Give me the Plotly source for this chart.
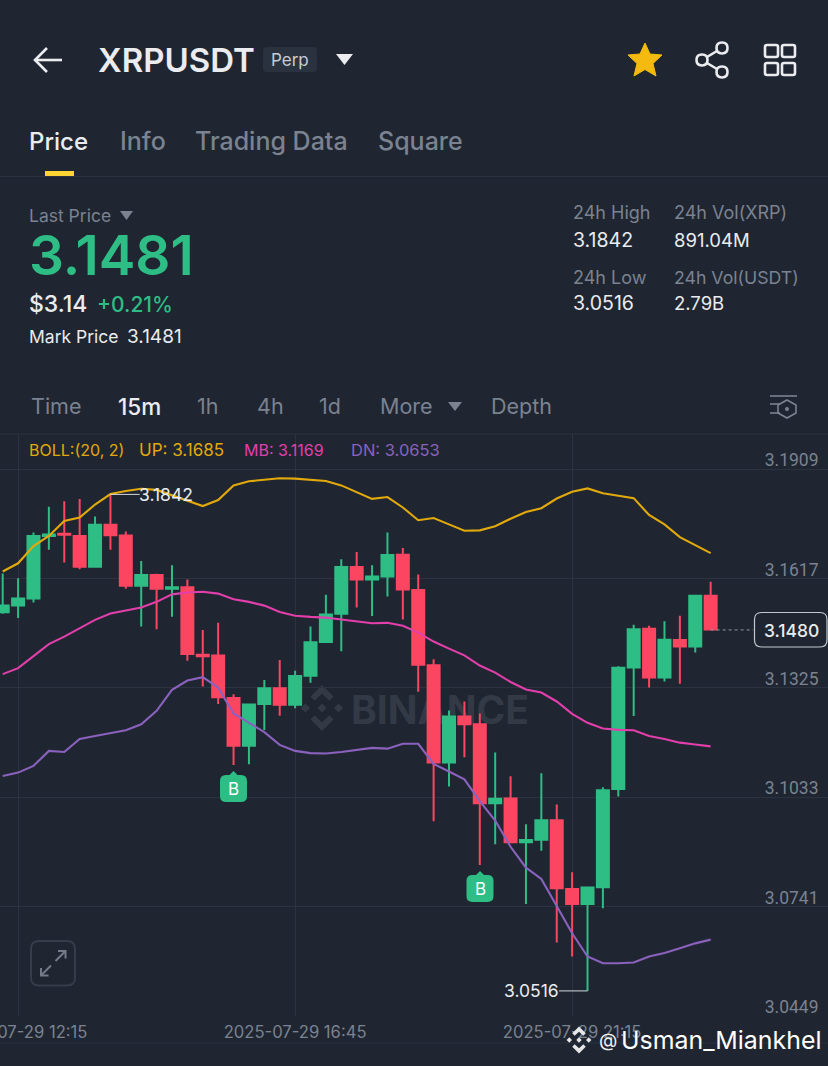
"""XRPUSDT 15m perp screen: candles with Bollinger bands plus the app chrome around them."""

import plotly.graph_objects as go

WIDTH = 828
HEIGHT = 1066
BG = "#1F2631"
GRID = "#2C3340"
GREEN = "#2EBD85"
RED = "#FC4661"
GRAY = "#7B8290"
SOFT = "#EAECEF"
YELLOW = "#E2A90C"
PINK = "#E23FAB"
PURPLE = "#8A62BE"
FONT = "Inter"

OPENS = [3.1527, 3.1545, 3.1564, 3.1731, 3.1737, 3.1731, 3.1649, 3.1761, 3.1732, 3.1598, 3.1627, 3.1590,
         3.1594, 3.1414, 3.1412, 3.1298, 3.1171, 3.1282, 3.1324, 3.1280, 3.1358, 3.1448, 3.1523, 3.1648,
         3.1615, 3.1623, 3.1681, 3.1587, 3.1386, 3.1126, 3.1249, 3.1228, 3.1017, 3.1030, 3.0913, 3.0920,
         3.0972, 3.0788, 3.0748, 3.0793, 3.1055, 3.1380, 3.1483, 3.1353, 3.1453, 3.1436, 3.1571]
HIGHS = [3.1631, 3.1618, 3.1740, 3.1809, 3.1824, 3.1830, 3.1783, 3.1842, 3.1743, 3.1664, 3.1630, 3.1653,
         3.1615, 3.1480, 3.1499, 3.1308, 3.1281, 3.1346, 3.1400, 3.1371, 3.1489, 3.1574, 3.1669, 3.1688,
         3.1653, 3.1740, 3.1699, 3.1628, 3.1402, 3.1265, 3.1289, 3.1257, 3.1153, 3.1089, 3.0961, 3.1097,
         3.1014, 3.0833, 3.0792, 3.1060, 3.1383, 3.1494, 3.1491, 3.1503, 3.1518, 3.1571, 3.1609]
LOWS = [3.1523, 3.1512, 3.1553, 3.1694, 3.1660, 3.1642, 3.1649, 3.1694, 3.1590, 3.1489, 3.1482, 3.1515,
        3.1398, 3.1329, 3.1282, 3.1119, 3.1121, 3.1213, 3.1251, 3.1271, 3.1339, 3.1448, 3.1423, 3.1540,
        3.1517, 3.1569, 3.1508, 3.1315, 3.0969, 3.1062, 3.1140, 3.0852, 3.0908, 3.0913, 3.0748, 3.0890,
        3.0645, 3.0608, 3.0516, 3.0737, 3.1035, 3.1250, 3.1326, 3.1342, 3.1336, 3.1420, 3.1481]
CLOSES = [3.1545, 3.1564, 3.1731, 3.1735, 3.1734, 3.1649, 3.1761, 3.1733, 3.1598, 3.1627, 3.1590, 3.1594,
          3.1416, 3.1410, 3.1300, 3.1171, 3.1281, 3.1324, 3.1280, 3.1357, 3.1447, 3.1521, 3.1648, 3.1615,
          3.1623, 3.1680, 3.1588, 3.1387, 3.1126, 3.1249, 3.1228, 3.1017, 3.1029, 3.0913, 3.0919, 3.0972,
          3.0790, 3.0748, 3.0792, 3.1052, 3.1379, 3.1482, 3.1353, 3.1454, 3.1436, 3.1571, 3.1481]
BOLL_UP = [3.1636, 3.1658, 3.1704, 3.1731, 3.1771, 3.1780, 3.1815, 3.1843, 3.1851, 3.1857, 3.1854, 3.1840,
           3.1824, 3.1811, 3.1827, 3.1866, 3.1877, 3.1882, 3.1885, 3.1884, 3.1880, 3.1878, 3.1866, 3.1848,
           3.1830, 3.1835, 3.1807, 3.1773, 3.1779, 3.1762, 3.1745, 3.1746, 3.1757, 3.1777, 3.1795, 3.1805,
           3.1831, 3.1849, 3.1858, 3.1845, 3.1838, 3.1832, 3.1787, 3.1762, 3.1728, 3.1706, 3.1685]
BOLL_MB = [3.1362, 3.1378, 3.1410, 3.1442, 3.1462, 3.1484, 3.1507, 3.1524, 3.1531, 3.1540, 3.1555, 3.1575,
           3.1580, 3.1582, 3.1577, 3.1562, 3.1555, 3.1545, 3.1528, 3.1518, 3.1515, 3.1513, 3.1508, 3.1503,
           3.1498, 3.1499, 3.1491, 3.1473, 3.1449, 3.1430, 3.1412, 3.1385, 3.1366, 3.1341, 3.1321, 3.1313,
           3.1289, 3.1256, 3.1232, 3.1217, 3.1213, 3.1212, 3.1197, 3.1189, 3.1179, 3.1174, 3.1169]
BOLL_DN = [3.1090, 3.1099, 3.1117, 3.1157, 3.1154, 3.1189, 3.1197, 3.1204, 3.1212, 3.1228, 3.1264, 3.1320,
           3.1345, 3.1354, 3.1326, 3.1257, 3.1231, 3.1207, 3.1173, 3.1157, 3.1151, 3.1150, 3.1154, 3.1159,
           3.1165, 3.1163, 3.1176, 3.1176, 3.1122, 3.1102, 3.1081, 3.1023, 3.0971, 3.0901, 3.0845, 3.0815,
           3.0741, 3.0670, 3.0608, 3.0590, 3.0590, 3.0592, 3.0608, 3.0617, 3.0630, 3.0643, 3.0653]
CANDLE_INDEX = list(range(len(OPENS)))

PRICE_TICKS = [3.1909, 3.1617, 3.1325, 3.1033, 3.0741, 3.0449]
TIME_TICKS = [1, 19, 37]
TIME_LABELS = ["2025-07-29 12:15", "2025-07-29 16:45", "2025-07-29 21:15"]
HIGH_MARK = (7, 3.1842)
LOW_MARK = (38, 3.0516)
LAST_PRICE = 3.1480


def px(x, y):
    """Screen pixel to paper fraction."""
    return x / WIDTH, 1 - y / HEIGHT


def path(points, close=False):
    """SVG path through screen pixels."""
    parts = []
    for i, (x, y) in enumerate(points):
        fx, fy = px(x, y)
        parts.append(f"{'M' if i == 0 else 'L'}{fx:.5f},{fy:.5f}")
    return " ".join(parts) + (" Z" if close else "")


def round_rect(x0, y0, x1, y1, r):
    """SVG path of a rounded rectangle given in screen pixels."""
    c = lambda x, y: "{:.5f},{:.5f}".format(*px(x, y))
    return (
        f"M{c(x0 + r, y0)} L{c(x1 - r, y0)} Q{c(x1, y0)} {c(x1, y0 + r)} L{c(x1, y1 - r)} "
        f"Q{c(x1, y1)} {c(x1 - r, y1)} L{c(x0 + r, y1)} Q{c(x0, y1)} {c(x0, y1 - r)} "
        f"L{c(x0, y0 + r)} Q{c(x0, y0)} {c(x0 + r, y0)} Z"
    )


def circle(cx, cy, r):
    return round_rect(cx - r, cy - r, cx + r, cy + r, r * 0.98)


shapes = []
annotations = []


def draw(d, fill=None, line=None, width=0, layer="above"):
    shapes.append(
        dict(type="path", path=d, xref="paper", yref="paper", layer=layer,
             fillcolor=fill or "rgba(0,0,0,0)",
             line=dict(color=line or "rgba(0,0,0,0)", width=width))
    )


def label(text, x, y, size, color, weight=400, anchor="left"):
    fx, fy = px(x, y)
    annotations.append(
        dict(text=text, x=fx, y=fy, xref="paper", yref="paper", xanchor=anchor, yanchor="middle",
             showarrow=False, borderpad=0, font=dict(family=FONT, size=size, color=color, weight=weight))
    )


def logo(cx, cy, s, color, layer="above"):
    """Binance mark: a ring of small diamonds round a centre diamond."""
    diamond = lambda x, y, r: path([(x, y - r), (x + r, y), (x, y + r), (x - r, y)], close=True)
    draw(diamond(cx, cy, s * 0.2), fill=color, layer=layer)
    draw(diamond(cx - s * 0.72, cy, s * 0.2), fill=color, layer=layer)
    draw(diamond(cx + s * 0.72, cy, s * 0.2), fill=color, layer=layer)
    for sign in (-1, 1):
        draw(path([(cx, cy + sign * s), (cx + s * 0.5, cy + sign * s * 0.5), (cx + s * 0.32, cy + sign * s * 0.32),
                   (cx, cy + sign * s * 0.62), (cx - s * 0.32, cy + sign * s * 0.32),
                   (cx - s * 0.5, cy + sign * s * 0.5)], close=True), fill=color, layer=layer)


# header row
draw(path([(35, 60), (62, 60)]), line=SOFT, width=2.6)
draw(path([(47, 48), (35, 60), (47, 72)]), line=SOFT, width=2.6)
label("XRPUSDT", 97, 60, 33, SOFT, 600)
draw(round_rect(263, 47, 317, 72, 4), fill="#2B323F")
label("Perp", 290, 60, 17, "#C7CBD2", anchor="center")
draw(path([(336, 54), (353, 54), (344.5, 65)], close=True), fill=SOFT)
draw(path([(645, 43), (650, 54), (662, 55), (653, 63.5), (656, 76), (645, 69.5), (634, 76), (637, 63.5),
           (628, 55), (640, 54)], close=True), fill="#F5BA0F", line="#F5BA0F", width=1)
draw(path([(722, 48), (702, 60), (722, 72)]), line=SOFT, width=2.6)
for cx, cy in [(702, 60), (722, 48), (722, 72)]:
    draw(circle(cx, cy, 5.5), fill=BG, line=SOFT, width=2.6)
for x0, y0 in [(765, 45), (782, 45), (765, 63), (782, 63)]:
    draw(round_rect(x0, y0, x0 + 13, y0 + 12, 2), line=SOFT, width=2.6)

# tabs
label("Price", 28, 141, 24, SOFT, 500)
for text, x in [("Info", 119), ("Trading Data", 194), ("Square", 377)]:
    label(text, x, 141, 25, GRAY, 500)
draw(path([(45, 171), (74, 171), (74, 176), (45, 176)], close=True), fill="#FCD535")
draw(path([(0, 176.5), (828, 176.5)]), line=GRID, width=1)

# price block
label("Last Price", 28, 216, 17.5, GRAY)
draw(path([(120, 211), (133, 211), (126.5, 220)], close=True), fill=GRAY)
label("3.1481", 28, 255, 55, GREEN, 600)
label("$3.14", 28, 304, 23, SOFT, 500)
label("+0.21%", 96, 304, 21, GREEN, 500)
label("Mark Price", 28, 336, 17.5, SOFT)
label("3.1481", 126, 336, 19, SOFT)
for text, x, y, size, color in [
    ("24h High", 572, 213, 18, GRAY), ("24h Vol(XRP)", 673, 213, 18, GRAY), ("3.1842", 572, 240, 19.5, SOFT),
    ("891.04M", 673, 240, 18.5, SOFT), ("24h Low", 572, 277, 18, GRAY), ("24h Vol(USDT)", 673, 277, 17.7, GRAY),
    ("3.0516", 572, 303, 19.5, SOFT), ("2.79B", 673, 303, 18.5, SOFT),
]:
    label(text, x, y, size, color)

# interval row
for text, x in [("Time", 30), ("1h", 196), ("4h", 256), ("1d", 318), ("More", 379), ("Depth", 490)]:
    label(text, x, 406, 21.5, GRAY)
label("15m", 117, 406, 22.5, SOFT, 500)
draw(path([(448, 402), (462, 402), (455, 411)], close=True), fill=GRAY)
draw(path([(770, 396), (797, 396)]), line=GRAY, width=1.6)
draw(path([(770, 404), (780, 404)]), line=GRAY, width=1.6)
draw(path([(770, 413), (780, 413)]), line=GRAY, width=1.6)
draw(path([(787, 400), (796, 405), (796, 413), (787, 418), (778, 413), (778, 405)], close=True), line=GRAY, width=1.6)
draw(circle(787, 409, 2), fill=GRAY)
draw(path([(0, 434), (828, 434)]), line=GRID, width=1)

# band legend
label("BOLL:(20, 2)", 28, 450, 16, YELLOW)
label("UP: 3.1685", 138, 450, 17, YELLOW)
label("MB: 3.1169", 243, 450, 16, PINK)
label("DN: 3.0653", 350, 450, 16.5, PURPLE)

# watermark sits under the candles
logo(322, 708, 23, "#333A46", layer="below")
x0, y0 = px(350, 688)
x1, y1 = px(530, 728)
shapes.append(
    dict(type="rect", x0=x0, y0=y0, x1=x1, y1=y1, xref="paper", yref="paper", layer="below",
         line=dict(width=0), fillcolor="rgba(0,0,0,0)",
         label=dict(text="BINANCE", textposition="middle center",
                    font=dict(family=FONT, size=39, color="#333A46", weight=700)))
)

# buy markers
for cx, tip in [(233.5, 771), (480, 871)]:
    draw(round_rect(cx - 13.5, tip + 4, cx + 13.5, tip + 31, 6), fill=GREEN)
    draw(path([(cx - 5, tip + 5), (cx, tip), (cx + 5, tip + 5)], close=True), fill=GREEN)
    label("B", cx, tip + 18, 17, "#FFFFFF", anchor="center")

# expand button
draw(round_rect(31, 941, 75, 985.5, 8), line="#363D4A", width=2)
for a, b in [((41, 975.5), (51, 965.5)), ((65.5, 951), (55.5, 961))]:
    draw(path([a, b]), line="#747B88", width=2)
draw(path([(41, 968), (41, 975.5), (48.5, 975.5)]), line="#747B88", width=2)
draw(path([(58, 951), (65.5, 951), (65.5, 958.5)]), line="#747B88", width=2)

# last price tag
draw(round_rect(754.5, 612.5, 827, 647, 7), fill=BG, line="#C4C8CE", width=1.2)
label("3.1480", 791, 630, 17.5, SOFT, 500, anchor="center")

# footer
draw(path([(0, 1043), (828, 1043)]), line=GRID, width=1)
logo(579, 1040, 13.5, "#E6E6E6")
label("@", 598, 1040, 19, "#F2F2F2")
label("Usman_Miankhel", 620, 1040, 24.9, "#FFFFFF")

fig = go.Figure()
fig.add_trace(
    go.Candlestick(
        x=CANDLE_INDEX, open=OPENS, high=HIGHS, low=LOWS, close=CLOSES,
        increasing=dict(line=dict(color=GREEN, width=2), fillcolor=GREEN),
        decreasing=dict(line=dict(color=RED, width=2), fillcolor=RED),
        whiskerwidth=0, showlegend=False, hoverinfo="skip",
    )
)
for values, color in [(BOLL_UP, YELLOW), (BOLL_MB, PINK), (BOLL_DN, PURPLE)]:
    fig.add_trace(go.Scatter(x=CANDLE_INDEX, y=values, mode="lines", line=dict(color=color, width=2.1),
                             showlegend=False, hoverinfo="skip"))

# high/low leaders and last-price dashes, in data coordinates
i_high = HIGH_MARK[0] + 1.9
i_low = LOW_MARK[0] - 1.85
for (i, price), end in [(HIGH_MARK, i_high), (LOW_MARK, i_low)]:
    fig.add_trace(go.Scatter(x=[i, end], y=[price, price], mode="lines", line=dict(color="#D5D8DD", width=1),
                             showlegend=False, hoverinfo="skip"))
fig.add_trace(go.Scatter(x=[CANDLE_INDEX[-1], 48.75], y=[LAST_PRICE, LAST_PRICE], mode="lines",
                         line=dict(color="#9298A3", width=1, dash="3px,3px"), showlegend=False, hoverinfo="skip"))
annotations.append(dict(text=f"{HIGH_MARK[1]:.4f}", x=i_high, y=HIGH_MARK[1], xref="x", yref="y", xanchor="left",
                        yanchor="middle", showarrow=False, borderpad=0, xshift=-2,
                        font=dict(family=FONT, size=17.5, color=SOFT)))
annotations.append(dict(text=f"{LOW_MARK[1]:.4f}", x=i_low, y=LOW_MARK[1], xref="x", yref="y", xanchor="right",
                        yanchor="middle", showarrow=False, borderpad=0, xshift=1,
                        font=dict(family=FONT, size=17.5, color=SOFT)))

fig.update_layout(
    width=WIDTH, height=HEIGHT, margin=dict(l=0, r=0, t=0, b=0), paper_bgcolor=BG, plot_bgcolor=BG,
    boxgap=0.22, boxgroupgap=0, hovermode=False, shapes=shapes, annotations=annotations,
    xaxis=dict(
        domain=[0, 1], range=[-0.1754, 53.626], rangeslider=dict(visible=False), tickmode="array", automargin=False,
        tickvals=TIME_TICKS, ticktext=TIME_LABELS, ticks="outside", ticklen=1, tickcolor="rgba(0,0,0,0)",
        ticklabeloverflow="allow", tickfont=dict(family=FONT, size=16.6, color=GRAY),
        gridcolor=GRID, gridwidth=1, showline=False, zeroline=False,
    ),
    yaxis=dict(
        domain=[50 / HEIGHT, 632 / HEIGHT], range=[3.0449, 3.20033], side="right", tickmode="array", automargin=False,
        tickvals=PRICE_TICKS, tickformat=".4f", ticklabelposition="inside", ticks="inside", ticklen=10,
        tickcolor="rgba(0,0,0,0)", ticklabelshift=-9, ticklabeloverflow="allow",
        tickfont=dict(family="Roboto", size=17.5, color=GRAY),
        gridcolor=GRID, gridwidth=1, showline=False, zeroline=False,
    ),
)

fig.write_html("out.html", config=dict(displayModeBar=False),
               post_script="document.body.style.margin='0';")
